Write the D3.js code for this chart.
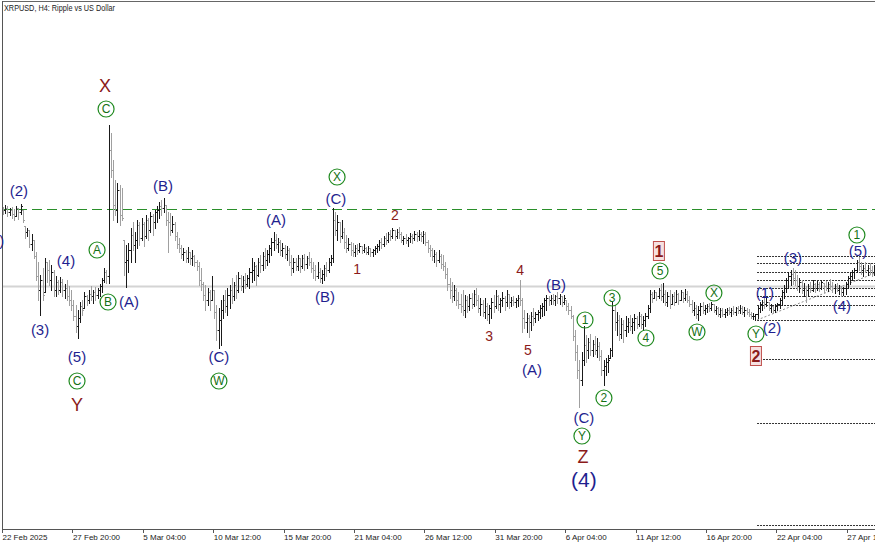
<!DOCTYPE html>
<html><head><meta charset="utf-8">
<script src="https://cdn.jsdelivr.net/npm/d3@7"></script>
<style>html,body{margin:0;padding:0;background:#fff}svg{display:block}</style>
</head><body>
<svg id="chart" width="875" height="545"></svg>
<script>
// ---- data (XRPUSD H4, one entry per bar) ----
const highs=[
2.59,2.6,2.595,2.585,2.59,2.58,2.595,2.585,2.605,2.575,
2.495,2.485,2.475,2.455,2.425,2.365,2.315,2.25,2.285,2.335,
2.315,2.325,2.3,2.275,2.245,2.225,2.24,2.23,2.205,2.225,
2.195,2.175,2.125,2.1,2.075,2.115,2.125,2.165,2.15,2.175,
2.195,2.175,2.19,2.185,2.205,2.235,2.285,2.275,3.0,2.96,
2.825,2.725,2.71,2.7,2.685,2.425,2.4,2.41,2.485,2.515,
2.465,2.525,2.515,2.535,2.515,2.55,2.535,2.565,2.555,2.575,
2.595,2.615,2.625,2.635,2.6,2.565,2.56,2.545,2.515,2.465,
2.435,2.4,2.385,2.375,2.39,2.365,2.375,2.35,2.325,2.315,
2.285,2.215,2.2,2.185,2.175,2.245,2.175,2.1,2.085,2.125,
2.15,2.175,2.185,2.2,2.235,2.215,2.25,2.265,2.25,2.245,
2.26,2.25,2.285,2.335,2.315,2.3,2.335,2.35,2.365,2.385,
2.375,2.4,2.435,2.465,2.455,2.435,2.425,2.41,2.4,2.395,
2.385,2.35,2.335,2.335,2.35,2.335,2.35,2.355,2.345,2.365,
2.335,2.315,2.3,2.315,2.285,2.275,2.3,2.315,2.335,2.35,
2.585,2.565,2.55,2.515,2.525,2.485,2.45,2.435,2.415,2.41,
2.4,2.405,2.41,2.395,2.405,2.39,2.395,2.385,2.38,2.395,
2.405,2.425,2.435,2.445,2.46,2.465,2.475,2.485,2.475,2.48,
2.49,2.465,2.445,2.455,2.44,2.46,2.455,2.47,2.465,2.475,
2.465,2.47,2.465,2.425,2.4,2.385,2.375,2.365,2.375,2.355,
2.35,2.315,2.285,2.235,2.215,2.2,2.185,2.165,2.155,2.175,
2.15,2.145,2.155,2.16,2.175,2.185,2.15,2.135,2.125,2.135,
2.11,2.1,2.135,2.15,2.175,2.15,2.135,2.165,2.145,2.175,
2.155,2.14,2.145,2.135,2.15,2.225,2.135,2.075,2.06,2.05,
2.065,2.085,2.065,2.075,2.1,2.11,2.135,2.15,2.145,2.15,
2.155,2.15,2.165,2.155,2.145,2.15,2.125,2.11,2.095,2.05,
1.975,1.9,1.825,1.865,1.995,1.95,1.935,1.955,1.925,1.945,
1.935,1.915,1.875,1.825,1.835,1.85,1.885,2.115,2.1,2.065,
2.05,2.035,2.025,2.045,2.035,2.05,2.035,2.055,2.045,2.065,
2.055,2.045,2.06,2.1,2.175,2.165,2.175,2.165,2.185,2.205,
2.21,2.175,2.165,2.175,2.155,2.165,2.175,2.16,2.175,2.165,
2.18,2.17,2.145,2.125,2.115,2.1,2.095,2.11,2.115,2.1,
2.105,2.11,2.115,2.105,2.095,2.09,2.085,2.085,2.08,2.085,
2.09,2.085,2.095,2.09,2.095,2.1,2.095,2.09,2.085,2.08,
2.065,2.06,2.055,2.095,2.115,2.125,2.135,2.14,2.115,2.105,
2.095,2.105,2.11,2.135,2.175,2.2,2.235,2.265,2.275,2.285,
2.275,2.25,2.235,2.225,2.21,2.195,2.205,2.215,2.225,2.21,
2.22,2.215,2.225,2.21,2.22,2.215,2.23,2.215,2.205,2.21,
2.2,2.195,2.19,2.215,2.245,2.265,2.275,2.285,2.325,2.34,
2.315,2.3,2.315,2.3,2.31,2.295,2.3];
const lows=[
2.555,2.56,2.545,2.55,2.535,2.525,2.545,2.53,2.555,2.515,
2.435,2.445,2.39,2.375,2.335,2.225,2.125,2.05,2.125,2.165,
2.215,2.2,2.175,2.145,2.145,2.155,2.165,2.145,2.135,2.125,
2.1,2.075,2.025,1.965,1.935,2.015,2.05,2.085,2.1,2.11,
2.125,2.11,2.125,2.135,2.145,2.165,2.215,2.21,2.21,2.74,
2.525,2.55,2.515,2.5,2.525,2.25,2.19,2.265,2.315,2.375,
2.315,2.385,2.4,2.425,2.395,2.435,2.425,2.465,2.45,2.485,
2.515,2.535,2.55,2.565,2.5,2.365,2.45,2.465,2.425,2.385,
2.365,2.335,2.325,2.315,2.315,2.305,2.3,2.295,2.275,2.2,
2.175,2.125,2.075,2.1,2.075,2.125,2.035,1.925,1.885,1.9,
2.035,2.065,2.05,2.085,2.11,2.125,2.135,2.165,2.175,2.165,
2.185,2.195,2.185,2.215,2.225,2.2,2.245,2.265,2.275,2.285,
2.3,2.315,2.35,2.375,2.385,2.365,2.35,2.345,2.335,2.325,
2.3,2.25,2.265,2.275,2.275,2.265,2.285,2.275,2.285,2.3,
2.265,2.235,2.225,2.235,2.215,2.21,2.225,2.245,2.265,2.3,
2.315,2.45,2.425,2.415,2.435,2.385,2.365,2.375,2.35,2.345,
2.345,2.355,2.365,2.36,2.365,2.355,2.355,2.345,2.345,2.355,
2.365,2.375,2.385,2.395,2.405,2.415,2.425,2.435,2.425,2.435,
2.435,2.415,2.405,2.41,2.395,2.415,2.41,2.425,2.42,2.425,
2.42,2.41,2.4,2.365,2.345,2.325,2.315,2.295,2.315,2.285,
2.275,2.235,2.175,2.135,2.115,2.125,2.1,2.085,2.065,2.05,
2.04,2.065,2.075,2.085,2.095,2.1,2.065,2.05,2.045,2.035,
2.025,2.01,2.035,2.065,2.085,2.075,2.065,2.095,2.075,2.095,
2.085,2.095,2.1,2.09,2.095,2.1,1.965,1.985,1.965,1.94,
1.975,2.0,2.015,2.025,2.035,2.045,2.05,2.075,2.1,2.105,
2.105,2.1,2.11,2.105,2.095,2.105,2.075,2.055,2.035,1.925,
1.825,1.735,1.59,1.7,1.8,1.815,1.835,1.85,1.845,1.855,
1.84,1.825,1.75,1.7,1.75,1.765,1.835,1.845,1.975,1.95,
1.925,1.935,1.915,1.945,1.965,1.975,1.96,1.975,1.985,1.995,
1.985,1.975,1.995,2.035,2.065,2.115,2.135,2.125,2.135,2.125,
2.115,2.1,2.095,2.085,2.105,2.1,2.115,2.105,2.125,2.115,
2.125,2.115,2.095,2.065,2.05,2.035,2.025,2.05,2.06,2.055,
2.065,2.07,2.075,2.065,2.055,2.045,2.04,2.045,2.04,2.05,
2.055,2.045,2.055,2.05,2.06,2.06,2.055,2.045,2.055,2.045,
2.035,2.03,2.025,2.035,2.065,2.075,2.085,2.095,2.075,2.065,
2.06,2.065,2.075,2.085,2.1,2.135,2.165,2.185,2.2,2.205,
2.2,2.175,2.165,2.16,2.145,2.115,2.145,2.165,2.17,2.165,
2.175,2.17,2.18,2.165,2.175,2.17,2.18,2.165,2.16,2.17,
2.155,2.145,2.15,2.155,2.185,2.205,2.225,2.235,2.265,2.275,
2.255,2.245,2.265,2.25,2.255,2.245,2.25];
const closes=[
2.575,2.585,2.565,2.575,2.555,2.545,2.585,2.565,2.595,2.525,
2.465,2.475,2.405,2.425,2.345,2.245,2.175,2.225,2.15,2.315,
2.275,2.225,2.265,2.175,2.215,2.175,2.215,2.175,2.185,2.145,
2.125,2.1,2.045,1.995,2.035,2.095,2.075,2.145,2.125,2.155,
2.145,2.165,2.15,2.175,2.195,2.225,2.265,2.245,2.875,2.775,
2.6,2.575,2.675,2.55,2.535,2.315,2.325,2.375,2.45,2.4,
2.425,2.5,2.435,2.505,2.445,2.525,2.475,2.545,2.515,2.565,
2.575,2.595,2.585,2.6,2.525,2.515,2.475,2.505,2.445,2.405,
2.385,2.355,2.365,2.335,2.365,2.335,2.345,2.315,2.295,2.225,
2.205,2.15,2.125,2.165,2.125,2.175,2.065,1.975,2.025,2.075,
2.125,2.095,2.15,2.175,2.145,2.2,2.175,2.235,2.195,2.225,
2.205,2.235,2.265,2.275,2.295,2.25,2.315,2.3,2.345,2.325,
2.355,2.385,2.415,2.425,2.405,2.415,2.375,2.385,2.355,2.375,
2.315,2.285,2.315,2.295,2.335,2.295,2.335,2.305,2.335,2.315,
2.285,2.275,2.245,2.265,2.235,2.255,2.285,2.275,2.315,2.335,
2.525,2.475,2.515,2.445,2.465,2.415,2.385,2.405,2.375,2.365,
2.385,2.375,2.395,2.375,2.385,2.365,2.385,2.365,2.375,2.385,
2.395,2.415,2.405,2.435,2.425,2.455,2.445,2.475,2.445,2.465,
2.455,2.425,2.435,2.425,2.435,2.445,2.435,2.455,2.445,2.455,
2.445,2.455,2.415,2.385,2.375,2.345,2.355,2.325,2.345,2.305,
2.295,2.255,2.205,2.175,2.145,2.175,2.125,2.105,2.095,2.075,
2.125,2.095,2.135,2.105,2.155,2.125,2.085,2.105,2.065,2.095,
2.055,2.085,2.115,2.095,2.145,2.105,2.125,2.135,2.115,2.155,
2.115,2.125,2.115,2.125,2.135,2.125,2.035,2.015,2.035,2.015,
2.045,2.035,2.055,2.065,2.085,2.095,2.125,2.135,2.125,2.135,
2.125,2.145,2.135,2.145,2.115,2.135,2.095,2.075,2.045,1.945,
1.865,1.775,1.725,1.825,1.9,1.875,1.915,1.875,1.905,1.875,
1.895,1.845,1.775,1.795,1.815,1.825,1.875,2.075,2.015,2.025,
1.955,2.005,1.975,1.995,2.015,1.995,2.015,2.035,2.005,2.045,
2.005,2.025,2.045,2.085,2.155,2.135,2.165,2.145,2.175,2.145,
2.155,2.115,2.145,2.105,2.145,2.115,2.155,2.125,2.165,2.135,
2.155,2.125,2.105,2.075,2.085,2.055,2.075,2.095,2.075,2.085,
2.095,2.085,2.105,2.075,2.085,2.055,2.075,2.055,2.065,2.075,
2.065,2.075,2.065,2.085,2.075,2.085,2.065,2.075,2.065,2.055,
2.045,2.045,2.055,2.085,2.105,2.115,2.105,2.115,2.085,2.095,
2.075,2.095,2.105,2.125,2.165,2.185,2.225,2.245,2.255,2.235,
2.225,2.195,2.215,2.175,2.185,2.175,2.195,2.175,2.205,2.185,
2.205,2.185,2.215,2.195,2.185,2.205,2.195,2.185,2.195,2.175,
2.185,2.165,2.185,2.205,2.235,2.245,2.265,2.275,2.315,2.295,
2.275,2.285,2.275,2.285,2.275,2.265,2.275];
const firstOpen=2.58;

const tickLabels=["22 Feb 2025","27 Feb 20:00","5 Mar 04:00","10 Mar 12:00","15 Mar 20:00","21 Mar 04:00","26 Mar 12:00","31 Mar 20:00","6 Apr 04:00","11 Apr 12:00","16 Apr 20:00","22 Apr 04:00","27 Apr 12:00"];
const tickBars=[0,32,64,96,128,160,192,224,256,288,320,352,384];

// horizontal levels
const dashedLevel=2.58;
const greyLevel=2.195;
const fiboLevels=[2.345,2.31,2.265,2.225,2.185,2.145,2.1,2.025,1.83,1.51,1.0];
const fiboStartBar=343.2;
const trendFrom=[343.2,2.025], trendTo=[397,2.26];

// wave labels: text, bar index, price, kind
const waveLabels=[
 ["X",46.8,3.195,"r2"],["C",47.3,3.08,"c"],["(2)",7.7,2.67,"n"],["(1)",-3.2,2.42,"n"],
 ["A",43.2,2.375,"c"],["(4)",29.1,2.32,"n"],["B",48.2,2.115,"c"],["(A)",57.7,2.115,"n"],
 ["(3)",17.3,1.975,"n"],["(5)",34.1,1.84,"n"],["C",34.1,1.72,"c"],["Y",34.1,1.6,"r2"],
 ["(B)",73.2,2.695,"n"],["(C)",98.6,1.84,"n"],["W",98.6,1.72,"c"],["(A)",124.5,2.525,"n"],
 ["X",152.3,2.74,"c"],["(C)",151.8,2.63,"n"],["2",178.6,2.55,"r"],["1",161.4,2.28,"r"],
 ["(B)",146.8,2.14,"n"],["4",235.5,2.275,"r"],["(B)",251.8,2.2,"n"],["3",221.4,1.945,"r"],
 ["5",239.1,1.875,"r"],["(A)",240.9,1.775,"n"],["1",298.6,2.37,"box"],["5",299.1,2.27,"c"],
 ["3",277.3,2.135,"c"],["1",265,2.025,"c"],["4",292.7,1.935,"c"],["2",273.6,1.635,"c"],
 ["(C)",264.5,1.535,"n"],["Y",263.6,1.445,"c"],["Z",264.1,1.34,"r2"],["(4)",264.5,1.23,"n2"],
 ["X",323.6,2.16,"c"],["W",315.9,1.965,"c"],["(1)",346.8,2.16,"n"],["(2)",350,1.985,"n"],
 ["Y",342.7,1.955,"c"],["2",342.7,1.845,"box"],["(3)",359.5,2.335,"n"],["(4)",381.8,2.095,"n"],
 ["1",388.6,2.45,"c"],["(5)",389.1,2.37,"n"]
];

// ---- drawing ----
const svg=d3.select("#chart");
const x=d3.scaleLinear().domain([0,32]).range([2,72.4]);
const y=d3.scaleLinear().domain([3.615,0.985]).range([2,528]);
const px=v=>Math.round(v)+0.5;
const R=875;

svg.append("rect").attr("width",875).attr("height",545).attr("fill","#fff");

const plot=svg.append("g");
plot.append("line").attr("x1",2).attr("x2",R).attr("y1",px(y(greyLevel))).attr("y2",px(y(greyLevel)))
 .attr("stroke","#d4d4d4").attr("stroke-width",2);
plot.append("line").attr("x1",2).attr("x2",R).attr("y1",px(y(dashedLevel))).attr("y2",px(y(dashedLevel)))
 .attr("stroke","#2a8f2a").attr("stroke-width",1).attr("stroke-dasharray","10,5");
plot.selectAll("line.fibo").data(fiboLevels).join("line").attr("class","fibo")
 .attr("x1",x(fiboStartBar)).attr("x2",R).attr("y1",d=>px(y(d))).attr("y2",d=>px(y(d)))
 .attr("stroke","#333").attr("stroke-width",1).attr("stroke-dasharray","2,1");
plot.append("line").attr("x1",x(trendFrom[0])).attr("y1",y(trendFrom[1])).attr("x2",x(trendTo[0])).attr("y2",y(trendTo[1]))
 .attr("stroke","#909090").attr("stroke-width",1).attr("stroke-dasharray","2,2");

// bars
const bars=highs.map((h,i)=>{
  let o=i===0?firstOpen:closes[i-1];
  o=Math.max(lows[i],Math.min(h,o));
  return {i,h,l:lows[i],o,c:closes[i]};
});
plot.append("g").attr("shape-rendering","crispEdges").selectAll("path").data(bars).join("path")
 .attr("d",d=>{const cx=px(x(d.i)+1);const yh=Math.round(y(d.h)),yl=Math.round(y(d.l))+1;
   const yo=px(y(d.o)),yc=px(y(d.c));
   return `M${cx},${yh}V${yl}M${cx-1.5},${yo}H${cx}M${cx},${yc}H${cx+1.5}`;})
 .attr("stroke",d=>d.c>=d.o?"#1a1a1a":"#a0a0a0").attr("stroke-width",1).attr("fill","none");

// frame & axis
svg.append("line").attr("x1",2).attr("x2",R).attr("y1",1.5).attr("y2",1.5).attr("stroke","#666");
svg.append("line").attr("x1",2.5).attr("x2",2.5).attr("y1",1).attr("y2",530).attr("stroke","#555");
svg.append("line").attr("x1",2).attr("x2",R).attr("y1",529.5).attr("y2",529.5).attr("stroke","#555");
const ax=svg.append("g");
ax.selectAll("line").data(tickBars).join("line")
 .attr("x1",d=>px(x(d))).attr("x2",d=>px(x(d))).attr("y1",529).attr("y2",533).attr("stroke","#555");
ax.selectAll("text").data(tickBars).join("text")
 .attr("x",d=>x(d)+0.5).attr("y",539.5).text((d,i)=>tickLabels[i])
 .attr("font-family","Liberation Sans, Arial, sans-serif").attr("font-size",8).attr("fill","#222");

svg.append("text").attr("x",4).attr("y",11).text("XRPUSD, H4:  Ripple vs US Dollar")
 .attr("font-family","Liberation Sans, Arial, sans-serif").attr("font-size",8.5).attr("fill","#222")
 .attr("textLength",111).attr("lengthAdjust","spacingAndGlyphs");

// wave labels
const styles={
 n:{fill:"#1f1f8f",size:15},
 n2:{fill:"#1f1f8f",size:21},
 r:{fill:"#8b1a1a",size:14},
 r2:{fill:"#8b1a1a",size:18}
};
const lg=svg.append("g").attr("font-family","Liberation Sans, Arial, sans-serif").attr("text-anchor","middle");
waveLabels.forEach(([t,bi,p,k])=>{
  const cx=x(bi), cy=y(p);
  if(k==="c"){
    lg.append("circle").attr("cx",cx).attr("cy",cy).attr("r",8).attr("fill","none").attr("stroke","#208a20").attr("stroke-width",1.2);
    lg.append("text").attr("x",cx).attr("y",cy).attr("dy","0.36em").attr("font-size",12).attr("fill","#157015").text(t);
  } else if(k==="box"){
    lg.append("rect").attr("x",cx-5.5).attr("y",cy-9.5).attr("width",11).attr("height",19).attr("fill","#f6e1e1").attr("stroke","#c0504d");
    lg.append("text").attr("x",cx).attr("y",cy).attr("dy","0.36em").attr("font-size",16).attr("font-weight","bold").attr("fill","#8b1a1a").text(t);
  } else {
    const s=styles[k];
    lg.append("text").attr("x",cx).attr("y",cy).attr("dy","0.36em").attr("font-size",s.size).attr("fill",s.fill).text(t);
  }
});
</script>
</body></html>
